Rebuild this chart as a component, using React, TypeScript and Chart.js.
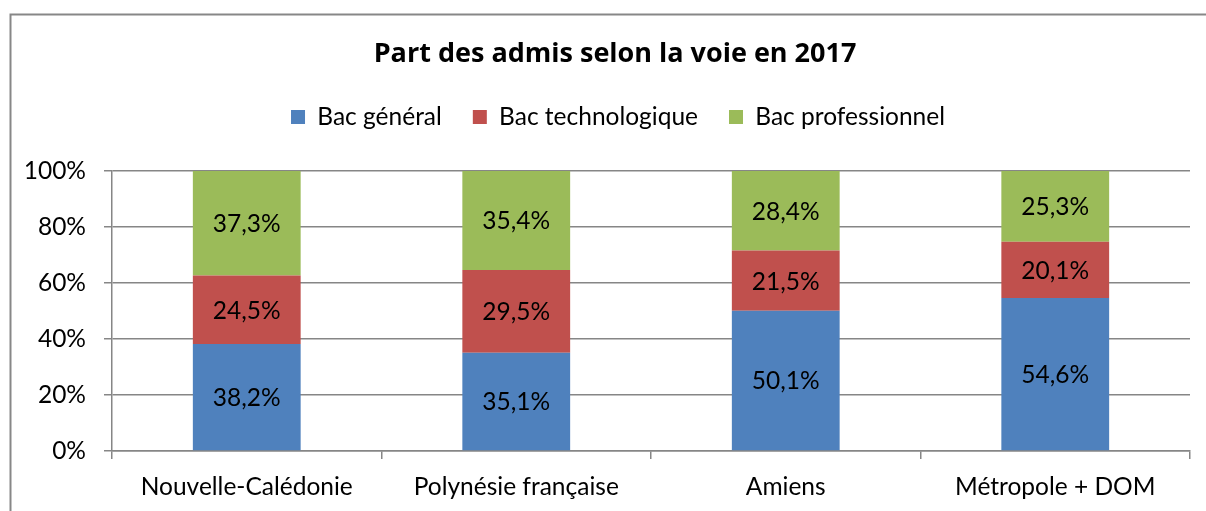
import React, { useEffect, useRef } from "react";
import { Chart, registerables } from "chart.js";

Chart.register(...registerables);

const categories = ["Nouvelle-Calédonie", "Polynésie française", "Amiens", "Métropole + DOM"];
const bacGeneral = [38.2, 35.1, 50.1, 54.6];
const bacTechno = [24.5, 29.5, 21.5, 20.1];
const bacPro = [37.3, 35.4, 28.4, 25.3];
const seriesNames = ["Bac général", "Bac technologique", "Bac professionnel"];
const seriesColors = ["#4F81BD", "#C0504D", "#9BBB59"];
const yTicks = [0, 20, 40, 60, 80, 100];
const titleText = "Part des admis selon la voie en 2017";

const FONT = "Lato, 'Noto Sans', sans-serif";
const TITLE_FONT = "'Open Sans', 'Noto Sans', sans-serif";
const FS = 24.5;
const GRID = "#868686";

const framePlugin = {
  id: "frame",
  beforeDraw(chart: any) {
    const ctx = chart.ctx;
    ctx.save();
    ctx.fillStyle = "#ffffff";
    ctx.fillRect(0, 0, chart.width, chart.height);
    ctx.strokeStyle = "#878787";
    ctx.lineWidth = 2;
    ctx.strokeRect(10.5, 14.5, chart.width + 100, chart.height + 100);
    ctx.restore();
  },
};

// centre the title and legend on the outer frame rather than the canvas
const centerPlugin = {
  id: "centerShift",
  afterLayout(chart: any) {
    if (chart.titleBlock) {
      chart.titleBlock.left += 7;
      chart.titleBlock.right += 7;
    }
    if (chart.legend) {
      chart.legend.left += 10;
      chart.legend.right += 10;
    }
  },
};

const labelPlugin = {
  id: "segLabels",
  afterDatasetsDraw(chart: any) {
    const ctx = chart.ctx;
    ctx.save();
    ctx.font = `${FS}px ${FONT}`;
    ctx.fillStyle = "#000";
    ctx.textAlign = "center";
    ctx.textBaseline = "middle";
    chart.data.datasets.forEach((ds: any, i: number) => {
      const meta = chart.getDatasetMeta(i);
      meta.data.forEach((el: any, j: number) => {
        const v = ds.data[j];
        const yc = (el.y + el.base) / 2;
        ctx.fillText(v.toFixed(1).replace(".", ",") + "%", el.x, yc + 1);
      });
    });
    ctx.restore();
  },
};

export default function App() {
  const ref = useRef<HTMLCanvasElement>(null);
  useEffect(() => {
    document.body.style.margin = "0";
    const series = [bacGeneral, bacTechno, bacPro];
    const chart = new Chart(ref.current!, {
      type: "bar",
      data: {
        labels: categories,
        datasets: series.map((d, i) => ({
          label: seriesNames[i],
          data: d,
          backgroundColor: seriesColors[i],
          borderWidth: 0,
          categoryPercentage: 1,
          barPercentage: 0.4,
        })),
      },
      options: {
        animation: false,
        responsive: false,
        layout: { padding: { left: 26, right: 16, top: 0, bottom: 0 } },
        plugins: {
          title: {
            display: true,
            text: titleText,
            color: "#000",
            font: { family: TITLE_FONT, size: 27, weight: "bold" },
            padding: { top: 38, bottom: 3.35 },
          },
          subtitle: {
            display: true,
            text: "",
            weight: 500,
            font: { size: 10 },
            padding: { top: 0, bottom: 19.75 },
          },
          legend: {
            display: true,
            labels: {
              color: "#000",
              font: { family: FONT, size: FS },
              boxWidth: 14,
              boxHeight: 14,
              padding: 31,
            },
          },
          tooltip: { enabled: false },
        },
        scales: {
          x: {
            stacked: true,
            afterFit: (s: any) => {
              s.height = 60;
            },
            grid: {
              display: true,
              drawOnChartArea: false,
              drawTicks: true,
              tickLength: 8,
              offset: true,
              color: GRID,
              lineWidth: 1.5,
            },
            border: { display: true, color: GRID, width: 1.5 },
            ticks: {
              color: "#000",
              font: { family: FONT, size: FS },
              padding: 13,
              maxRotation: 0,
            },
          },
          y: {
            stacked: true,
            min: 0,
            max: 100,
            afterFit: (s: any) => {
              s.width = 86;
            },
            afterBuildTicks: (s: any) => {
              s.ticks = yTicks.map((v) => ({ value: v }));
            },
            grid: {
              color: GRID,
              lineWidth: 1.5,
              tickLength: 8,
            },
            border: { display: true, color: GRID, width: 1.5 },
            ticks: {
              color: "#000",
              font: { family: FONT, size: FS },
              padding: 18,
              callback: (v: any) => v + "%",
            },
          },
        },
      },
      plugins: [framePlugin, centerPlugin, labelPlugin],
    });
    return () => chart.destroy();
  }, []);
  return (
    <div style={{ width: 1206, height: 511 }}>
      <canvas ref={ref} width={1206} height={511} style={{ display: "block" }} />
    </div>
  );
}
